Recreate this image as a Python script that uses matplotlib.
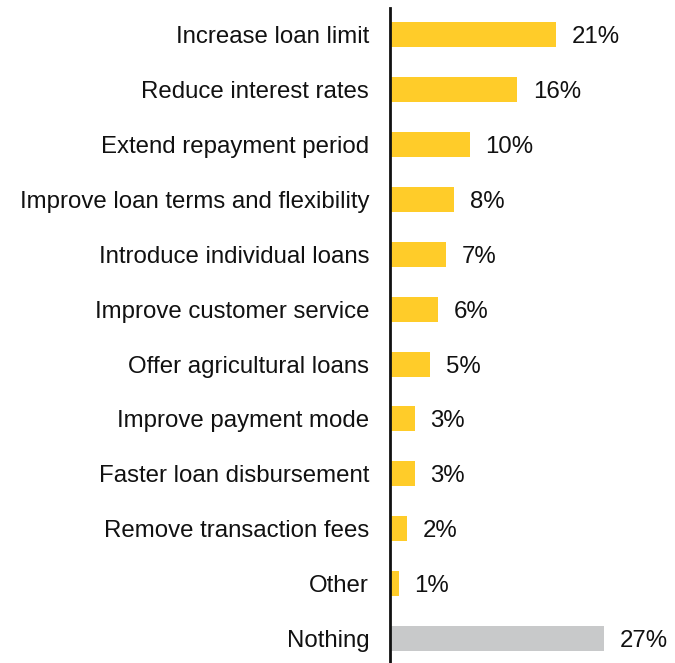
import matplotlib
matplotlib.use("Agg")
import matplotlib.pyplot as plt

categories = ["Increase loan limit", "Reduce interest rates", "Extend repayment period",
              "Improve loan terms and flexibility", "Introduce individual loans",
              "Improve customer service", "Offer agricultural loans", "Improve payment mode",
              "Faster loan disbursement", "Remove transaction fees", "Other", "Nothing"]
values = [21, 16, 10, 8, 7, 6, 5, 3, 3, 2, 1, 27]
labels = ["21%", "16%", "10%", "8%", "7%", "6%", "5%", "3%", "3%", "2%", "1%", "27%"]

plt.rcParams['font.family'] = ['Liberation Sans', 'DejaVu Sans']

fig = plt.figure(figsize=(6.75, 6.63), dpi=100)
ax = fig.add_axes([390/675, 0.0, 1 - 390/675, 1 - 8/663])

colors = ["#FFCC29"] * (len(values) - 1) + ["#C8C9CA"]
y = list(range(len(values)))
ax.barh(y, values, height=0.455, color=colors, left=0.12)
ax.set_xlim(0, 36.2)
ax.set_ylim(11.45, -0.49)

for yi, v, lab in zip(y, values, labels):
    ax.text(v + 0.12 + 2.0, yi, lab, va='center_baseline', ha='left', fontsize=17.3, color='#111111')

ax.set_yticks(y)
ax.set_yticklabels(categories, fontsize=17.3, color='#111111')
ax.tick_params(axis='y', length=0, pad=15)
ax.set_xticks([])
for s in ['top', 'right', 'bottom']:
    ax.spines[s].set_visible(False)
ax.spines['left'].set_linewidth(2)
ax.spines['left'].set_color('#111111')

fig.savefig("out.png", dpi=100)
